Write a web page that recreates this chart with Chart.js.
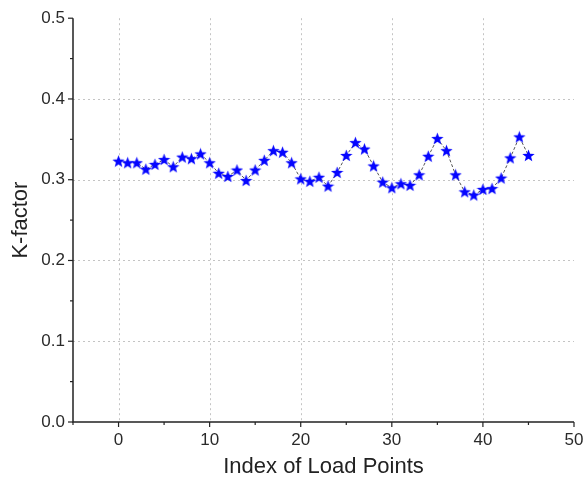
<!DOCTYPE html>
<html>
<head>
<meta charset="utf-8">
<script src="https://cdn.jsdelivr.net/npm/chart.js@4"></script>
<style>
  html, body { margin: 0; padding: 0; background: #fff; }
  #wrap { width: 585px; height: 480px; }
</style>
</head>
<body>
<div id="wrap"><canvas id="chartK"></canvas></div>
<script>
// --- DATOS ---
const indices = [0,1,2,3,4,5,6,7,8,9,10,11,12,13,14,15,16,17,18,19,20,21,22,23,24,25,26,27,28,29,30,31,32,33,34,35,36,37,38,39,40,41,42,43,44,45];
const kFactor = [0.323,0.321,0.321,0.313,0.319,0.325,0.316,0.328,0.326,0.332,0.321,0.308,0.304,0.312,0.299,0.312,0.324,0.336,0.334,0.321,0.301,0.298,0.303,0.292,0.309,0.330,0.346,0.338,0.317,0.297,0.290,0.295,0.293,0.306,0.329,0.351,0.336,0.306,0.285,0.281,0.288,0.289,0.302,0.327,0.353,0.330];
const xTicks = [-5,0,5,10,15,20,25,30,35,40,45,50];
const yTicks = [0,0.05,0.1,0.15,0.2,0.25,0.3,0.35,0.4,0.45,0.5];

// --- MARCADOR ESTRELLA ---
function crearEstrella(size, color) {
    const c = document.createElement('canvas');
    c.width = size; c.height = size;
    const ctx = c.getContext('2d');
    const cx = size / 2, cy = size / 2 + 0.5;
    const rOut = size / 2, rIn = rOut * 0.42;
    ctx.beginPath();
    for (let i = 0; i < 10; i++) {
        const r = i % 2 === 0 ? rOut : rIn;
        const a = -Math.PI / 2 + i * Math.PI / 5;
        const px = cx + r * Math.cos(a), py = cy + r * Math.sin(a);
        if (i === 0) ctx.moveTo(px, py); else ctx.lineTo(px, py);
    }
    ctx.closePath();
    ctx.fillStyle = color;
    ctx.fill();
    return c;
}
const estrella = crearEstrella(13, '#0505ff');

// --- EJES, REJILLA Y MARCAS ---
const ejesPlugin = {
    id: 'ejes',
    beforeDatasetsDraw(chart) {
        const { ctx, chartArea: a, scales: { x, y } } = chart;
        ctx.save();
        // rejilla punteada
        ctx.strokeStyle = '#c4c4c4';
        ctx.lineWidth = 1;
        ctx.setLineDash([2, 3]);
        xTicks.filter(v => v % 10 === 0 && v > -5 && v < 50).forEach(v => {
            const px = Math.round(x.getPixelForValue(v)) + 0.5;
            ctx.beginPath(); ctx.moveTo(px, a.top); ctx.lineTo(px, a.bottom); ctx.stroke();
        });
        yTicks.filter(v => Math.round(v * 100) % 10 === 0 && v > 0 && v < 0.5).forEach(v => {
            const py = Math.round(y.getPixelForValue(v)) + 0.5;
            ctx.beginPath(); ctx.moveTo(a.left, py); ctx.lineTo(a.right, py); ctx.stroke();
        });
        ctx.setLineDash([]);
        // ejes
        ctx.strokeStyle = '#222';
        ctx.lineWidth = 1.5;
        ctx.beginPath();
        ctx.moveTo(a.left, a.top); ctx.lineTo(a.left, a.bottom); ctx.lineTo(a.right, a.bottom);
        ctx.stroke();
        ctx.lineWidth = 1.2;
        xTicks.forEach(v => {
            const px = x.getPixelForValue(v);
            const len = v % 10 === 0 ? 5 : 3;
            ctx.beginPath(); ctx.moveTo(px, a.bottom); ctx.lineTo(px, a.bottom + len); ctx.stroke();
        });
        yTicks.forEach(v => {
            const py = y.getPixelForValue(v);
            const len = Math.round(v * 100) % 10 === 0 ? 5 : 3;
            ctx.beginPath(); ctx.moveTo(a.left, py); ctx.lineTo(a.left - len, py); ctx.stroke();
        });
        ctx.restore();
    }
};

const fuenteTicks = { family: 'Liberation Sans, Arial, sans-serif', size: 17 };
const fuenteTitulo = { family: 'Liberation Sans, Arial, sans-serif', size: 22 };

new Chart(document.getElementById('chartK'), {
    type: 'scatter',
    data: {
        datasets: [{
            label: 'K-factor',
            data: indices.map((v, i) => ({ x: v, y: kFactor[i] })),
            showLine: true,
            borderColor: '#555',
            borderWidth: 1,
            borderDash: [3, 2],
            pointStyle: estrella,
            pointRadius: 6,
            pointHoverRadius: 6
        }]
    },
    options: {
        responsive: true,
        maintainAspectRatio: false,
        animation: false,
        events: [],
        layout: { padding: { top: 18, right: 11, left: 1, bottom: 0 } },
        plugins: { legend: { display: false }, tooltip: { enabled: false } },
        scales: {
            x: {
                type: 'linear', min: -5, max: 50,
                afterFit: s => { s.height = 58; s.paddingRight = 0; s.paddingLeft = 0; },
                afterBuildTicks: s => { s.ticks = xTicks.map(v => ({ value: v })); },
                grid: { display: false, drawTicks: false },
                border: { display: false },
                ticks: {
                    autoSkip: false, maxRotation: 0, padding: 8,
                    color: '#2a2a2a', font: fuenteTicks,
                    callback: v => (v % 10 === 0 && v >= 0) ? String(v) : ''
                },
                title: { display: true, text: 'Index of Load Points', color: '#222', font: fuenteTitulo, padding: { top: 0, bottom: 0 } }
            },
            y: {
                type: 'linear', min: 0, max: 0.5,
                afterFit: s => { s.width = 72; },
                afterBuildTicks: s => { s.ticks = yTicks.map(v => ({ value: v })); },
                grid: { display: false, drawTicks: false },
                border: { display: false },
                ticks: {
                    autoSkip: false, padding: 8,
                    color: '#2a2a2a', font: fuenteTicks,
                    callback: v => Math.round(v * 100) % 10 === 0 ? v.toFixed(1) : ''
                },
                title: { display: true, text: 'K-factor', color: '#222', font: fuenteTitulo, padding: { top: 7, bottom: 0 } }
            }
        }
    },
    plugins: [ejesPlugin]
});
</script>
</body>
</html>
